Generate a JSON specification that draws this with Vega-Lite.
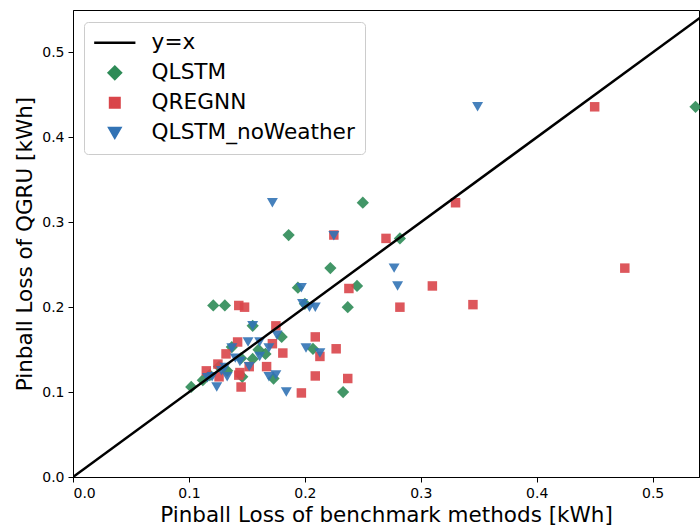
{
  "$schema": "https://vega.github.io/schema/vega-lite/v6.json",
  "autosize": "none",
  "width": 626,
  "height": 467,
  "padding": {"left": 73, "top": 10, "right": 1, "bottom": 51},
  "background": "white",
  "config": {
    "font": "DejaVu Sans",
    "view": {"stroke": "black", "strokeWidth": 1},
    "axis": {
      "grid": false,
      "domainColor": "black",
      "tickColor": "black",
      "tickSize": 5,
      "labelFontSize": 14,
      "labelColor": "black",
      "titleFontSize": 21.5,
      "titleFontWeight": "normal",
      "titleColor": "black",
      "labelPadding": 4
    }
  },
  "datasets": {
    "losses": [
      {"series": "QLSTM", "bench": 0.537, "qgru": 0.436},
      {"series": "QLSTM", "bench": 0.250, "qgru": 0.323},
      {"series": "QLSTM", "bench": 0.186, "qgru": 0.285},
      {"series": "QLSTM", "bench": 0.282, "qgru": 0.281},
      {"series": "QLSTM", "bench": 0.222, "qgru": 0.246},
      {"series": "QLSTM", "bench": 0.245, "qgru": 0.225},
      {"series": "QLSTM", "bench": 0.194, "qgru": 0.223},
      {"series": "QLSTM", "bench": 0.237, "qgru": 0.200},
      {"series": "QLSTM", "bench": 0.200, "qgru": 0.204},
      {"series": "QLSTM", "bench": 0.121, "qgru": 0.202},
      {"series": "QLSTM", "bench": 0.131, "qgru": 0.202},
      {"series": "QLSTM", "bench": 0.155, "qgru": 0.178},
      {"series": "QLSTM", "bench": 0.180, "qgru": 0.165},
      {"series": "QLSTM", "bench": 0.207, "qgru": 0.151},
      {"series": "QLSTM", "bench": 0.137, "qgru": 0.153},
      {"series": "QLSTM", "bench": 0.166, "qgru": 0.145},
      {"series": "QLSTM", "bench": 0.155, "qgru": 0.139},
      {"series": "QLSTM", "bench": 0.112, "qgru": 0.114},
      {"series": "QLSTM", "bench": 0.102, "qgru": 0.106},
      {"series": "QLSTM", "bench": 0.146, "qgru": 0.118},
      {"series": "QLSTM", "bench": 0.173, "qgru": 0.116},
      {"series": "QLSTM", "bench": 0.233, "qgru": 0.100},
      {"series": "QLSTM", "bench": 0.126, "qgru": 0.130},
      {"series": "QLSTM", "bench": 0.145, "qgru": 0.140},
      {"series": "QLSTM", "bench": 0.160, "qgru": 0.150},
      {"series": "QLSTM", "bench": 0.133, "qgru": 0.125},
      {"series": "QLSTM", "bench": 0.118, "qgru": 0.120},
      {"series": "QREGNN", "bench": 0.450, "qgru": 0.436},
      {"series": "QREGNN", "bench": 0.330, "qgru": 0.323},
      {"series": "QREGNN", "bench": 0.270, "qgru": 0.281},
      {"series": "QREGNN", "bench": 0.225, "qgru": 0.285},
      {"series": "QREGNN", "bench": 0.476, "qgru": 0.246},
      {"series": "QREGNN", "bench": 0.238, "qgru": 0.222},
      {"series": "QREGNN", "bench": 0.310, "qgru": 0.225},
      {"series": "QREGNN", "bench": 0.345, "qgru": 0.203},
      {"series": "QREGNN", "bench": 0.282, "qgru": 0.200},
      {"series": "QREGNN", "bench": 0.143, "qgru": 0.202},
      {"series": "QREGNN", "bench": 0.148, "qgru": 0.200},
      {"series": "QREGNN", "bench": 0.175, "qgru": 0.178},
      {"series": "QREGNN", "bench": 0.209, "qgru": 0.165},
      {"series": "QREGNN", "bench": 0.227, "qgru": 0.151},
      {"series": "QREGNN", "bench": 0.181, "qgru": 0.146},
      {"series": "QREGNN", "bench": 0.213, "qgru": 0.142},
      {"series": "QREGNN", "bench": 0.209, "qgru": 0.119},
      {"series": "QREGNN", "bench": 0.237, "qgru": 0.116},
      {"series": "QREGNN", "bench": 0.197, "qgru": 0.099},
      {"series": "QREGNN", "bench": 0.167, "qgru": 0.130},
      {"series": "QREGNN", "bench": 0.142, "qgru": 0.159},
      {"series": "QREGNN", "bench": 0.132, "qgru": 0.145},
      {"series": "QREGNN", "bench": 0.172, "qgru": 0.157},
      {"series": "QREGNN", "bench": 0.125, "qgru": 0.133},
      {"series": "QREGNN", "bench": 0.115, "qgru": 0.125},
      {"series": "QREGNN", "bench": 0.144, "qgru": 0.123},
      {"series": "QREGNN", "bench": 0.126, "qgru": 0.118},
      {"series": "QREGNN", "bench": 0.152, "qgru": 0.130},
      {"series": "QREGNN", "bench": 0.145, "qgru": 0.106},
      {"series": "QREGNN", "bench": 0.143, "qgru": 0.120},
      {"series": "QLSTM_noWeather", "bench": 0.349, "qgru": 0.436},
      {"series": "QLSTM_noWeather", "bench": 0.172, "qgru": 0.323},
      {"series": "QLSTM_noWeather", "bench": 0.225, "qgru": 0.284},
      {"series": "QLSTM_noWeather", "bench": 0.277, "qgru": 0.246},
      {"series": "QLSTM_noWeather", "bench": 0.280, "qgru": 0.225},
      {"series": "QLSTM_noWeather", "bench": 0.197, "qgru": 0.223},
      {"series": "QLSTM_noWeather", "bench": 0.198, "qgru": 0.204},
      {"series": "QLSTM_noWeather", "bench": 0.204, "qgru": 0.200},
      {"series": "QLSTM_noWeather", "bench": 0.209, "qgru": 0.200},
      {"series": "QLSTM_noWeather", "bench": 0.176, "qgru": 0.167},
      {"series": "QLSTM_noWeather", "bench": 0.201, "qgru": 0.152},
      {"series": "QLSTM_noWeather", "bench": 0.213, "qgru": 0.146},
      {"series": "QLSTM_noWeather", "bench": 0.175, "qgru": 0.120},
      {"series": "QLSTM_noWeather", "bench": 0.184, "qgru": 0.100},
      {"series": "QLSTM_noWeather", "bench": 0.155, "qgru": 0.178},
      {"series": "QLSTM_noWeather", "bench": 0.151, "qgru": 0.159},
      {"series": "QLSTM_noWeather", "bench": 0.161, "qgru": 0.159},
      {"series": "QLSTM_noWeather", "bench": 0.137, "qgru": 0.152},
      {"series": "QLSTM_noWeather", "bench": 0.169, "qgru": 0.152},
      {"series": "QLSTM_noWeather", "bench": 0.161, "qgru": 0.142},
      {"series": "QLSTM_noWeather", "bench": 0.144, "qgru": 0.136},
      {"series": "QLSTM_noWeather", "bench": 0.152, "qgru": 0.130},
      {"series": "QLSTM_noWeather", "bench": 0.131, "qgru": 0.129},
      {"series": "QLSTM_noWeather", "bench": 0.120, "qgru": 0.118},
      {"series": "QLSTM_noWeather", "bench": 0.133, "qgru": 0.118},
      {"series": "QLSTM_noWeather", "bench": 0.169, "qgru": 0.118},
      {"series": "QLSTM_noWeather", "bench": 0.124, "qgru": 0.106},
      {"series": "QLSTM_noWeather", "bench": 0.116, "qgru": 0.117},
      {"series": "QLSTM_noWeather", "bench": 0.140, "qgru": 0.140},
      {"series": "QLSTM_noWeather", "bench": 0.128, "qgru": 0.125}
    ],
    "identity": [
      {"series": "y=x", "bench": 0.0, "qgru": 0.0},
      {"series": "y=x", "bench": 0.6, "qgru": 0.6}
    ]
  },
  "layer": [
    {
      "data": {"name": "losses"},
      "transform": [{"filter": "datum.series === 'QLSTM'"}],
      "mark": {"type": "point", "filled": true, "opacity": 0.9, "size": 150}
    },
    {
      "data": {"name": "losses"},
      "transform": [{"filter": "datum.series === 'QREGNN'"}],
      "mark": {"type": "point", "filled": true, "opacity": 0.9, "size": 90}
    },
    {
      "data": {"name": "losses"},
      "transform": [{"filter": "datum.series === 'QLSTM_noWeather'"}],
      "mark": {"type": "point", "filled": true, "opacity": 0.9, "size": 120}
    },
    {
      "data": {"name": "identity"},
      "mark": {"type": "line", "strokeWidth": 2.5, "clip": true},
      "encoding": {
        "shape": {"value": "stroke"}
      }
    }
  ],
  "encoding": {
    "x": {
      "field": "bench",
      "type": "quantitative",
      "scale": {"domain": [0, 0.54], "nice": false, "zero": false},
      "axis": {"title": "Pinball Loss of benchmark methods [kWh]", "values": [0, 0.1, 0.2, 0.3, 0.4, 0.5], "format": ".1f", "titlePadding": 4}
    },
    "y": {
      "field": "qgru",
      "type": "quantitative",
      "scale": {"domain": [0, 0.55], "nice": false, "zero": false},
      "axis": {"title": "Pinball Loss of QGRU [kWh]", "values": [0, 0.1, 0.2, 0.3, 0.4, 0.5], "format": ".1f", "titlePadding": 5}
    },
    "color": {
      "field": "series",
      "type": "nominal",
      "scale": {
        "domain": ["y=x", "QLSTM", "QREGNN", "QLSTM_noWeather"],
        "range": ["black", "#2e8b57", "#d9454a", "#3273b5"]
      },
      "legend": {
        "title": null,
        "orient": "none",
        "legendX": 11,
        "legendY": 12,
        "padding": 10,
        "fillColor": "rgba(255,255,255,0.85)",
        "strokeColor": "#cccccc",
        "cornerRadius": 4,
        "labelFontSize": 21.6,
        "labelColor": "black",
        "labelLimit": 0,
        "rowPadding": 7,
        "symbolOffset": 10,
        "labelOffset": 26,
        "symbolSize": 1700,
        "symbolOpacity": 1,
        "encode": {
          "symbols": {
            "update": {
              "size": {"signal": "datum.value === 'y=x' ? 1700 : datum.value === 'QLSTM' ? 150 : datum.value === 'QREGNN' ? 90 : 120"},
              "stroke": {"signal": "datum.value === 'y=x' ? 'black' : 'transparent'"},
              "strokeWidth": {"value": 2.5}
            }
          }
        }
      }
    },
    "shape": {
      "field": "series",
      "type": "nominal",
      "scale": {
        "domain": ["y=x", "QLSTM", "QREGNN", "QLSTM_noWeather"],
        "range": ["stroke", "diamond", "square", "triangle-down"]
      }
    }
  }
}
